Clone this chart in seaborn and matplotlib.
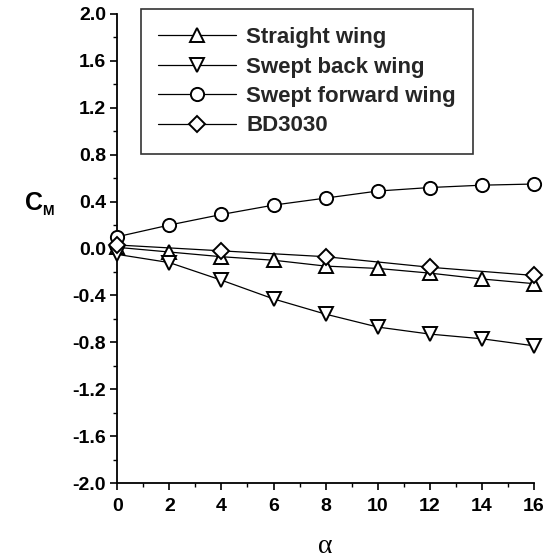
import numpy as np
import pandas as pd
import matplotlib
matplotlib.use("Agg")
import matplotlib.pyplot as plt
from matplotlib.ticker import MultipleLocator
import seaborn as sns

# Pitching-moment coefficient versus angle of attack
alpha_full = [0, 2, 4, 6, 8, 10, 12, 14, 16]
cm_straight = [0.01, -0.03, -0.07, -0.10, -0.15, -0.17, -0.21, -0.26, -0.30]
cm_swept_back = [-0.05, -0.12, -0.27, -0.43, -0.56, -0.67, -0.73, -0.77, -0.83]
cm_swept_forward = [0.10, 0.20, 0.29, 0.37, 0.43, 0.49, 0.52, 0.54, 0.55]
alpha_bd = [0, 4, 8, 12, 16]
cm_bd3030 = [0.03, -0.02, -0.07, -0.16, -0.23]
y_ticks = [-2.0, -1.6, -1.2, -0.8, -0.4, 0.0, 0.4, 0.8, 1.2, 1.6, 2.0]

series = [
    ("Straight wing", alpha_full, cm_straight, "^"),
    ("Swept back wing", alpha_full, cm_swept_back, "v"),
    ("Swept forward wing", alpha_full, cm_swept_forward, "o"),
    ("BD3030", alpha_bd, cm_bd3030, "D"),
]

sns.set_theme(style="ticks")
plt.rcParams["font.family"] = ["Liberation Sans", "DejaVu Sans"]

fig = plt.figure(figsize=(5.45, 5.6), dpi=100)
ax = fig.add_axes([0.215, 0.1375, 0.765, 0.8375])

for name, xs, ys, mk in series:
    df = pd.DataFrame({"alpha": xs, "cm": ys})
    sns.lineplot(data=df, x="alpha", y="cm", ax=ax, color="black", lw=0.9,
                 marker=mk, markersize=9.5 if mk != "D" else 8,
                 markerfacecolor="white", markeredgecolor="black",
                 markeredgewidth=1.4, label=name, clip_on=False, zorder=3)

ax.set_xlim(0, 16)
ax.set_ylim(-2.0, 2.0)
ax.xaxis.set_major_locator(MultipleLocator(2))
ax.xaxis.set_minor_locator(MultipleLocator(1))
ax.set_yticks(y_ticks)
ax.set_yticklabels([f"{v:.1f}" for v in y_ticks])
ax.yaxis.set_minor_locator(MultipleLocator(0.2))

for s in ("top", "right"):
    ax.spines[s].set_visible(False)
for s in ("left", "bottom"):
    ax.spines[s].set_linewidth(1.3)
    ax.spines[s].set_color("black")

ax.tick_params(axis="both", which="major", direction="out", length=5, width=1.2,
               colors="black", labelsize=14)
ax.tick_params(axis="y", which="major", pad=3)
ax.tick_params(axis="x", which="major", pad=6)
ax.tick_params(axis="both", which="minor", direction="out", length=3, width=1.0,
               colors="black")
for lbl in ax.get_xticklabels() + ax.get_yticklabels():
    lbl.set_fontweight("bold")

ax.set_xlabel("")
ax.set_ylabel("")
fig.text(0.597, 0.024, "α", fontsize=20, color="black", ha="center",
         va="center", family=["Liberation Serif", "DejaVu Serif"])
fig.text(0.045, 0.637, "C", fontsize=18, color="black", ha="left",
         va="center", weight="bold")
fig.text(0.078, 0.624, "M", fontsize=10, color="black", ha="left",
         va="center", weight="bold")

leg = ax.legend(loc="upper left", bbox_to_anchor=(0.056, 1.01), frameon=True,
                fancybox=False, edgecolor="black", handlelength=3.5,
                borderpad=0.8, labelspacing=0.38, handletextpad=0.45,
                borderaxespad=0.0,
                prop={"weight": "bold", "size": 16})
leg.get_frame().set_linewidth(1.2)

fig.savefig("out.png", dpi=100, facecolor="white")
